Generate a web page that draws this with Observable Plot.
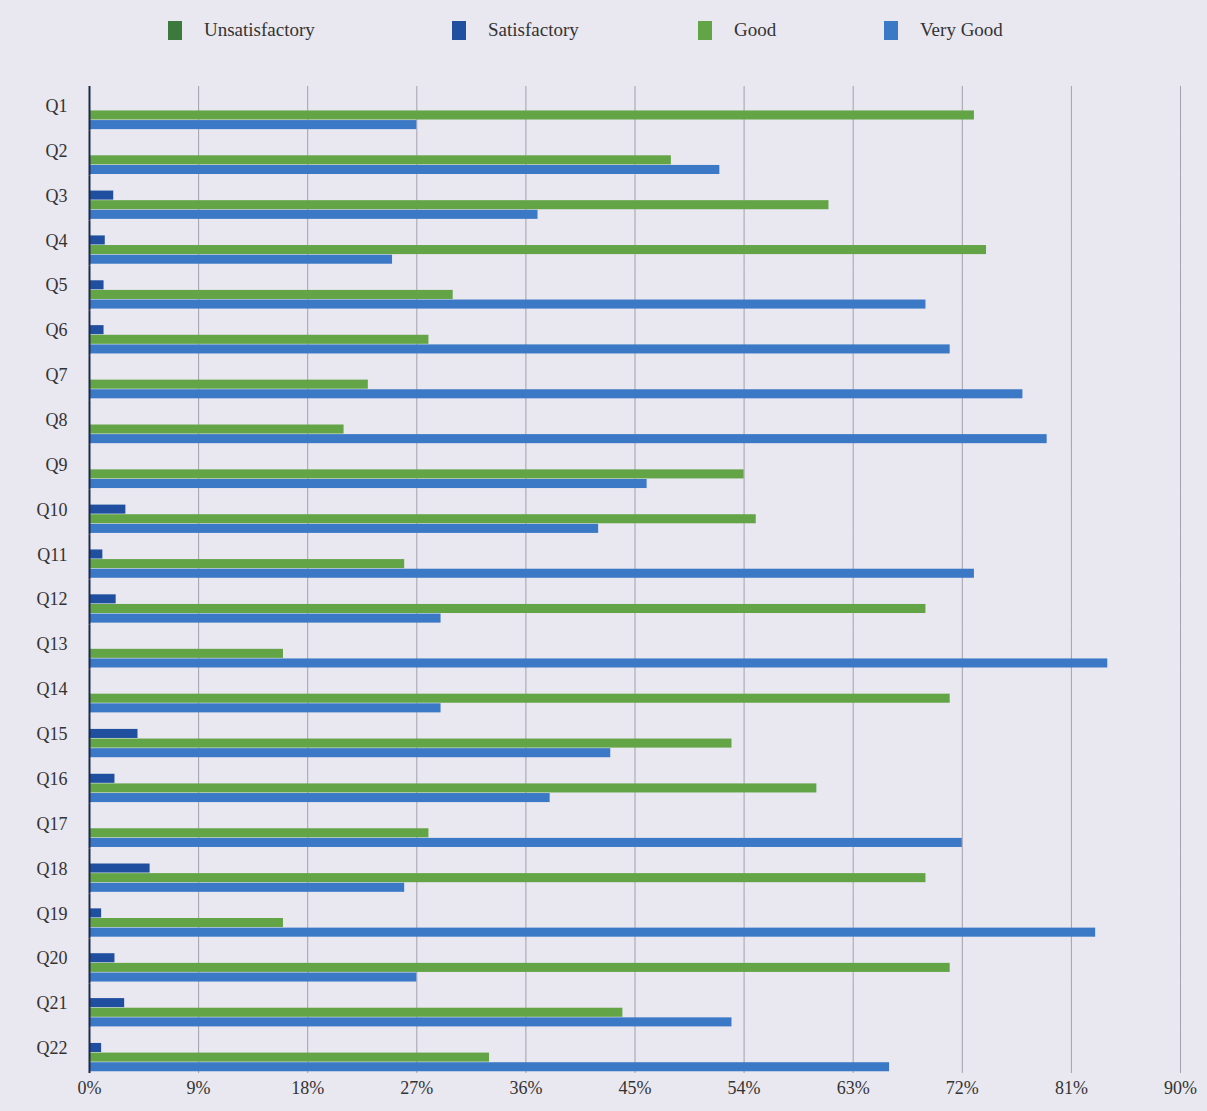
<!DOCTYPE html>
<html>
<head>
<meta charset="utf-8">
<script src="https://cdn.jsdelivr.net/npm/d3@7"></script>
<script src="https://cdn.jsdelivr.net/npm/@observablehq/plot@0.6"></script>
<style>
  html, body { margin: 0; padding: 0; background: #e9e7f0; }
  body { width: 1207px; height: 1111px; overflow: hidden; font-family: "Liberation Serif", "DejaVu Serif", serif; }
  #legend { position: relative; height: 62px; width: 1207px; }
  .item { position: absolute; top: 19px; display: flex; align-items: center; font-size: 19px; color: #333; }
  .sw { width: 14px; height: 19px; margin-right: 22px; }
  #chart svg { display: block; }
</style>
</head>
<body>
<div id="legend"></div>
<div id="chart"></div>
<script>
const questions = ["Q1","Q2","Q3","Q4","Q5","Q6","Q7","Q8","Q9","Q10","Q11","Q12","Q13","Q14","Q15","Q16","Q17","Q18","Q19","Q20","Q21","Q22"];
const seriesNames = ["Unsatisfactory", "Satisfactory", "Good", "Very Good"];
const seriesColors = ["#3b7a3c", "#1f4f9e", "#62a446", "#3b78c6"];
const unsatisfactory = [0,0,0,0,0,0,0,0,0,0,0,0,0,0,0,0,0,0,0,0,0,0];
const satisfactory   = [0,0,2,1.3,1.2,1.2,0,0,0,3,1.1,2.2,0,0,4,2.1,0,5,1,2.1,2.9,1];
const good           = [73,48,61,74,30,28,23,21,54,55,26,69,16,71,53,60,28,69,16,71,44,33];
const veryGood       = [27,52,37,25,69,71,77,79,46,42,73,29,84,29,43,38,72,26,83,27,53,66];
const xTicks = [0,9,18,27,36,45,54,63,72,81,90];

const seriesValues = [unsatisfactory, satisfactory, good, veryGood];
const data = [];
questions.forEach((q, i) => {
  seriesNames.forEach((s, j) => data.push({question: q, series: s, value: seriesValues[j][i]}));
});

// legend
const legend = document.getElementById("legend");
const legendX = [168, 452, 698, 884];
seriesNames.forEach((s, j) => {
  const d = document.createElement("div");
  d.className = "item";
  d.style.left = legendX[j] + "px";
  d.innerHTML = `<span class="sw" style="background:${seriesColors[j]}"></span><span>${s}</span>`;
  legend.appendChild(d);
});

const chart = Plot.plot({
  width: 1207,
  height: 1049,
  marginTop: 24,
  marginBottom: 38,
  marginLeft: 89,
  marginRight: 27,
  style: {background: "transparent", fontFamily: "'Liberation Serif', serif", fontSize: "18px", color: "#333"},
  x: {domain: [0, 90], ticks: xTicks, tickFormat: d => d + "%", tickSize: 0, tickPadding: 8, label: null, grid: false},
  fy: {domain: questions, padding: 0, round: false, label: null, axis: "left", tickSize: 0, tickPadding: 22},
  y: {domain: seriesNames, axis: null, round: false, paddingInner: 0.06, paddingOuter: 0.36, align: 0.75},
  color: {domain: seriesNames, range: seriesColors},
  marks: [
    Plot.ruleX(xTicks.slice(1), {stroke: "#85838e", strokeWidth: 1, strokeOpacity: 0.7}),
    Plot.barX(data, {fy: "question", y: "series", x: "value", fill: "series"}),
    Plot.ruleX([0], {stroke: "#1c2a48", strokeWidth: 2})
  ]
});
document.getElementById("chart").appendChild(chart);
// nudge question labels toward the upper bars of each group
chart.querySelectorAll("[aria-label='fy-axis tick label'] text, [aria-label='fy-axis'] text").forEach(t => t.setAttribute("dy", "-0.15em"));
</script>
</body>
</html>
